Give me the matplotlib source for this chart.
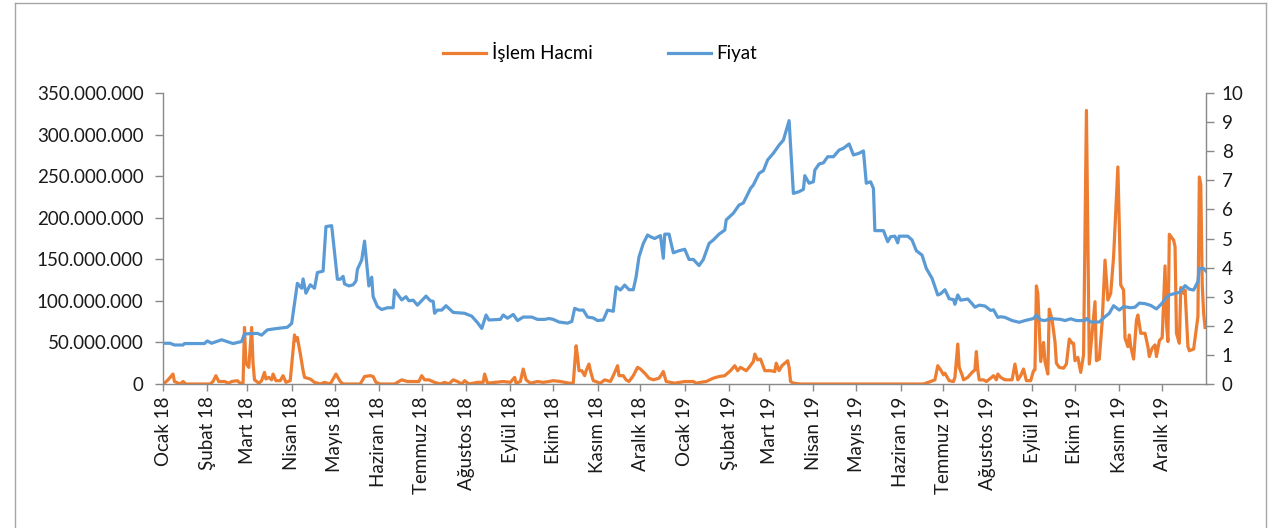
import matplotlib
matplotlib.use("Agg")
import matplotlib.pyplot as plt
import matplotlib.dates as mdates
import matplotlib.ticker as mticker
from matplotlib.patches import Rectangle
import pandas as pd

plt.rcParams['font.family'] = ['Lato', 'DejaVu Sans']

# ---------------- data ----------------
start_date = "2018-01-01"
month_names = ["Ocak", "Şubat", "Mart", "Nisan", "Mayıs", "Haziran", "Temmuz",
               "Ağustos", "Eylül", "Ekim", "Kasım", "Aralık"]
years = ["18", "19"]

# Fiyat (right axis) - day offset from start_date and value
price_days = [0, 5, 8, 14, 15, 29, 31, 34, 41, 49, 55, 57, 66, 69, 73, 80, 87, 90, 94, 97,
              98, 100, 103, 106, 108, 112, 114, 118, 122, 124, 126, 127, 130, 133, 135, 136, 139, 141, 144, 146,
              147, 150, 153, 157, 161, 162, 167, 170, 172, 175, 178, 184, 187, 189, 190, 192, 195, 198, 203, 211,
              216, 220, 223, 226, 228, 236, 238, 241, 245, 248, 252, 258, 262, 267, 270, 273, 277, 283, 286, 288,
              291, 294, 297, 301, 304, 308, 311, 315, 317, 320, 323, 326, 329, 331, 333, 336, 339, 341, 344, 348,
              350, 351, 354, 357, 361, 365, 368, 371, 375, 378, 382, 385, 389, 393, 394, 399, 403, 406, 411, 413,
              417, 420, 423, 427, 431, 434, 438, 441, 445, 448, 449, 452, 455, 456, 459, 462, 465, 469, 473, 476,
              480, 483, 487, 490, 492, 495, 497, 498, 504, 507, 509, 512, 514, 515, 521, 524, 527, 531, 534, 538,
              542, 544, 547, 550, 553, 554, 556, 558, 563, 566, 568, 571, 575, 579, 581, 584, 586, 589, 594, 599,
              603, 609, 611, 614, 617, 621, 628, 631, 635, 639, 645, 646, 649, 655, 659, 662, 665, 669, 672, 677,
              680, 683, 687, 691, 695, 699, 701, 704, 707, 711, 713, 715, 718, 721, 724, 725, 728, 730]
price_values = [1.40, 1.40, 1.34, 1.34, 1.39, 1.39, 1.48, 1.40, 1.52, 1.39, 1.46, 1.72, 1.74, 1.68, 1.86, 1.91, 1.95, 2.08, 3.46, 3.29,
                3.61, 3.12, 3.41, 3.29, 3.83, 3.88, 5.41, 5.44, 3.60, 3.60, 3.70, 3.44, 3.37, 3.41, 3.54, 3.94, 4.26, 4.91, 3.37, 3.67,
                3.00, 2.66, 2.56, 2.62, 2.62, 3.23, 2.89, 3.00, 2.86, 2.88, 2.71, 3.02, 2.86, 2.84, 2.43, 2.54, 2.54, 2.69, 2.46, 2.43,
                2.33, 2.11, 1.91, 2.37, 2.20, 2.22, 2.37, 2.26, 2.39, 2.18, 2.30, 2.30, 2.22, 2.22, 2.25, 2.22, 2.13, 2.09, 2.15, 2.60,
                2.54, 2.54, 2.30, 2.27, 2.18, 2.20, 2.54, 2.50, 3.34, 3.23, 3.40, 3.24, 3.24, 3.69, 4.37, 4.83, 5.12, 5.06, 5.00, 5.10,
                4.32, 5.15, 5.15, 4.51, 4.58, 4.63, 4.28, 4.28, 4.07, 4.28, 4.83, 4.95, 5.15, 5.29, 5.64, 5.87, 6.15, 6.22, 6.72, 6.84,
                7.24, 7.33, 7.70, 7.93, 8.21, 8.38, 9.05, 6.55, 6.61, 6.69, 7.16, 6.90, 6.95, 7.35, 7.56, 7.60, 7.81, 7.81, 8.04, 8.10,
                8.25, 7.87, 7.93, 8.01, 6.90, 6.95, 6.72, 5.27, 5.27, 4.89, 5.06, 5.08, 4.85, 5.08, 5.08, 4.95, 4.58, 4.43, 3.97, 3.63,
                3.06, 3.10, 3.24, 2.93, 2.90, 2.74, 3.06, 2.88, 2.92, 2.76, 2.64, 2.71, 2.68, 2.53, 2.55, 2.29, 2.31, 2.29, 2.18, 2.12,
                2.18, 2.25, 2.37, 2.20, 2.18, 2.25, 2.22, 2.18, 2.24, 2.18, 2.18, 2.25, 2.13, 2.13, 2.31, 2.43, 2.69, 2.54, 2.66, 2.62,
                2.64, 2.78, 2.76, 2.70, 2.58, 2.78, 2.92, 3.06, 3.10, 3.15, 3.26, 3.38, 3.26, 3.23, 3.52, 3.97, 3.97, 3.86]

# İşlem Hacmi (left axis) - day offset and volume in millions
volume_days = [0, 3, 7, 8, 12, 14, 16, 33, 35, 37, 39, 43, 46, 48, 52, 54, 56, 57, 58, 60,
               62, 63, 64, 67, 69, 71, 72, 74, 76, 77, 79, 82, 84, 86, 89, 92, 93, 94, 96, 98,
               99, 103, 106, 110, 113, 117, 121, 124, 126, 138, 141, 145, 147, 149, 152, 162, 167, 171, 179, 181,
               183, 186, 190, 194, 197, 200, 203, 206, 209, 211, 214, 220, 224, 225, 227, 238, 243, 246, 247, 250,
               252, 254, 257, 262, 266, 270, 273, 278, 284, 287, 289, 290, 291, 293, 295, 296, 298, 299, 301, 306,
               309, 313, 315, 318, 319, 322, 324, 326, 329, 332, 334, 337, 340, 343, 347, 349, 350, 352, 358, 365,
               371, 373, 376, 380, 385, 389, 393, 397, 400, 402, 404, 408, 410, 413, 414, 416, 418, 421, 425, 428,
               429, 431, 433, 435, 437, 438, 439, 441, 446, 532, 537, 540, 542, 544, 546, 547, 550, 553, 554, 556,
               557, 559, 560, 563, 566, 568, 569, 570, 571, 574, 576, 579, 581, 583, 584, 586, 589, 594, 596, 598,
               600, 602, 604, 607, 609, 610, 611, 612, 614, 616, 617, 619, 620, 622, 624, 625, 627, 630, 632, 634,
               636, 637, 638, 640, 642, 644, 646, 648, 650, 652, 653, 655, 657, 659, 661, 663, 665, 668, 670, 672,
               673, 675, 676, 677, 679, 681, 682, 684, 687, 689, 690, 692, 694, 695, 697, 699, 701, 702, 703, 704,
               707, 708, 709, 711, 712, 714, 715, 717, 718, 721, 724, 725, 726, 727, 728, 729]
volume_values = [0, 4, 12, 3, 0, 3, 0, 0, 3, 10, 3, 3, 1, 3, 4, 1, 1, 68, 25, 20,
                 68, 25, 5, 1, 4, 14, 6, 8, 5, 12, 4, 4, 10, 2, 4, 59, 52, 56, 37, 16,
                 8, 6, 2, 0, 2, 0, 12, 3, 0, 0, 9, 10, 9, 2, 0, 0, 5, 3, 3, 10,
                 5, 5, 2, 0, 2, 0, 5, 3, 0, 4, 0, 2, 2, 12, 1, 3, 2, 8, 1, 3,
                 18, 5, 1, 3, 2, 3, 4, 3, 1, 1, 46, 33, 16, 16, 10, 16, 24, 16, 4, 1,
                 5, 3, 10, 22, 10, 10, 5, 3, 10, 20, 18, 13, 7, 5, 7, 12, 15, 3, 1, 3,
                 3, 1, 2, 3, 7, 9, 10, 16, 22, 16, 20, 16, 20, 27, 36, 29, 30, 16, 16, 15,
                 25, 16, 22, 25, 28, 20, 3, 1, 0, 0, 3, 5, 22, 17, 11, 13, 4, 3, 8, 48,
                 20, 11, 5, 8, 14, 17, 39, 17, 5, 5, 3, 7, 10, 5, 12, 8, 5, 5, 24, 5,
                 10, 18, 4, 4, 16, 17, 118, 109, 27, 50, 27, 12, 90, 77, 51, 25, 20, 19, 24, 54,
                 49, 49, 28, 32, 14, 35, 329, 24, 61, 99, 28, 30, 74, 149, 101, 109, 153, 261, 119, 113,
                 55, 45, 59, 45, 30, 77, 83, 61, 61, 45, 33, 43, 47, 33, 52, 56, 142, 73, 51, 180,
                 173, 165, 61, 49, 116, 109, 113, 45, 40, 42, 81, 249, 240, 120, 85, 68]

volume_label = "İşlem Hacmi"
price_label = "Fiyat"

# ---------------- figure ----------------
W, H = 1288, 528
fig = plt.figure(figsize=(W / 100, H / 100), dpi=100)

# chart-area border (left, top, right)
fig.add_artist(plt.Line2D([15 / W, 15 / W], [0, 1 - 3 / H], transform=fig.transFigure, color="#a6a6a6", lw=1.0))
fig.add_artist(plt.Line2D([15 / W, 1266 / W], [1 - 3 / H, 1 - 3 / H], transform=fig.transFigure, color="#a6a6a6", lw=1.0))
fig.add_artist(plt.Line2D([1266 / W, 1266 / W], [0, 1 - 3 / H], transform=fig.transFigure, color="#a6a6a6", lw=1.0))

ax = fig.add_axes([163 / W, 1 - 384 / H, (1206.5 - 163) / W, (384 - 93) / H])
ax2 = ax.twinx()

base = pd.Timestamp(start_date)
vol_dates = base + pd.to_timedelta(volume_days, unit="D")
pr_dates = base + pd.to_timedelta(price_days, unit="D")
vol = [v * 1e6 for v in volume_values]

orange = "#ED7D31"
blue = "#5B9BD5"
l1, = ax.plot(vol_dates, vol, color=orange, lw=2.3, solid_joinstyle="round", label=volume_label)
l2, = ax2.plot(pr_dates, price_values, color=blue, lw=2.3, solid_joinstyle="round", label=price_label)

ax.set_xlim(base, pd.Timestamp("2020-01-01"))
ax.set_ylim(0, 350e6)
ax2.set_ylim(0, 10)
ax.set_yticks([i * 50e6 for i in range(8)])
ax2.set_yticks(range(11))

def dotfmt(v, pos):
    return f"{int(round(v)):,}".replace(",", ".")

ax.yaxis.set_major_formatter(mticker.FuncFormatter(dotfmt))

months = pd.date_range(start_date, periods=24, freq="MS")
labels = [f"{month_names[d.month - 1]} {years[d.year - 2018]}" for d in months]
ax.set_xticks(months)
ax.set_xticklabels(labels, rotation=90, ha="center", va="top")

spine_c = "#898989"
for a in (ax, ax2):
    for s in a.spines.values():
        s.set_color(spine_c)
        s.set_linewidth(1.0)
    a.spines["top"].set_visible(False)
ax.spines["right"].set_visible(False)
ax2.spines["left"].set_visible(False)
ax2.spines["bottom"].set_visible(False)

fs = 13.5
ax.tick_params(axis="y", direction="out", length=6, width=1, color=spine_c, labelsize=fs, pad=8, labelcolor="#1a1a1a")
ax.tick_params(axis="x", direction="out", length=5, width=1, color=spine_c, labelsize=fs, pad=4, labelcolor="#1a1a1a")
ax2.tick_params(axis="y", direction="out", length=6, width=1, color=spine_c, labelsize=fs, pad=5, labelcolor="#1a1a1a")

fig.legend([l1, l2], [volume_label, price_label], loc="center", bbox_to_anchor=(600 / W, 1 - 52 / H),
           ncol=2, frameon=False, fontsize=fs, handlelength=2.3, columnspacing=4.0, handletextpad=0.3)

fig.savefig("out.png", dpi=100)
